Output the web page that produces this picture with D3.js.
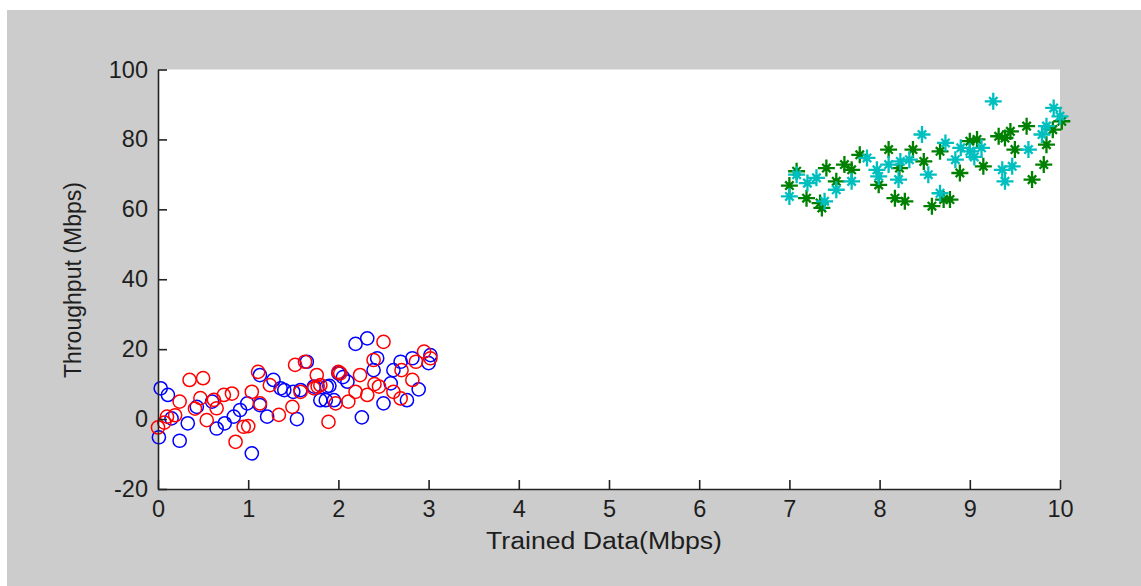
<!DOCTYPE html>
<html><head><meta charset="utf-8">
<script src="https://cdn.jsdelivr.net/npm/d3@7"></script>
<style>body{margin:0;background:#fff}svg{display:block}text{font-family:"Liberation Sans",Arial,sans-serif;fill:#1e1e1e}</style>
</head><body>
<svg id="c" width="1141" height="586"></svg>
<script>
const xTicks = [0,1,2,3,4,5,6,7,8,9,10];
const yTicks = [-20,0,20,40,60,80,100];
const xLabel = "Trained Data(Mbps)";
const yLabel = "Throughput (Mbps)";

const blueX = [0.03,0.11,0.01,0.24,0.33,0.15,0.43,0.60,0.65,0.74,0.84,0.91,0.99,1.04,1.13,1.21,1.28,1.36,1.40,1.50,1.54,1.65,1.58,1.73,1.80,1.87,1.95,2.00,2.10,2.19,2.32,2.26,2.43,2.39,2.50,2.61,2.58,2.69,2.76,2.82,2.89,3.02,3.00,1.13,1.90,1.86,2.05];
const blueY = [8.8,6.9,-5.2,-6.2,-1.2,0.2,3.5,5.0,-2.7,-1.2,0.7,2.6,4.5,-9.8,12.6,0.7,11.2,8.8,8.3,7.8,0.0,16.4,8.3,9.3,5.4,9.3,5.4,13.1,10.7,21.5,23.1,0.5,17.4,14.0,4.5,14.0,10.2,16.4,5.4,17.4,8.5,18.3,16.0,4.0,9.5,5.4,12.0];

const redX = [0.00,0.07,0.10,0.19,0.24,0.35,0.50,0.41,0.54,0.65,0.73,0.82,0.86,0.95,1.00,1.04,1.11,1.13,1.34,1.49,1.52,1.63,1.58,1.76,1.73,1.89,1.97,2.02,2.11,2.19,2.24,2.32,2.39,2.50,2.45,2.61,2.69,2.70,2.82,2.86,2.95,3.02,2.00,1.77,0.47,1.24,1.80,2.40,0.62];
const redY = [-2.4,-1.0,0.7,1.1,5.0,11.2,11.7,3.0,-0.3,3.1,6.9,7.3,-6.5,-2.2,-2.0,7.8,13.5,4.5,1.2,3.5,15.5,16.4,7.8,12.6,8.8,-0.8,4.5,13.1,5.0,7.8,12.6,6.9,16.9,22.1,9.3,7.8,5.9,14.0,11.2,16.4,19.3,17.4,13.5,9.3,6.0,9.7,9.7,10.0,5.5];

const greenX = [7.00,7.08,7.19,7.34,7.36,7.41,7.52,7.61,7.69,7.78,7.99,8.10,8.17,8.28,8.37,8.49,8.58,8.67,8.71,8.78,8.89,9.00,9.08,9.15,9.32,9.39,9.45,9.50,9.63,9.69,9.82,9.85,9.92,10.02,8.22];
const greenY = [66.8,70.9,63.2,61.8,60.4,71.8,68.0,72.8,71.3,75.6,67.0,77.1,63.2,62.3,77.1,73.7,60.9,76.6,62.8,62.8,70.4,79.5,80.0,72.3,80.9,80.4,82.3,77.1,83.8,68.5,72.8,78.5,82.8,85.2,71.8];

const cyanX = [7.00,7.08,7.20,7.30,7.39,7.52,7.69,7.86,7.97,7.99,8.10,8.21,8.23,8.33,8.47,8.54,8.67,8.73,8.84,8.90,9.00,9.13,9.26,9.36,9.39,9.47,9.65,9.80,9.85,9.93,10.00,9.05];
const cyanY = [63.7,69.9,67.5,69.0,62.3,65.6,68.0,74.7,71.3,69.4,72.8,68.5,73.7,74.2,81.4,69.9,64.6,79.0,74.2,77.6,76.6,77.6,90.9,71.3,68.0,72.3,77.1,81.4,83.8,89.0,86.6,75.0];

const svg = d3.select("#c");
svg.append("rect").attr("x",7).attr("y",10).attr("width",1134).attr("height",576).attr("fill","#cccccc");

const L=158,R=1060,T=69.5,B=489;
svg.append("rect").attr("x",L).attr("y",T).attr("width",R-L).attr("height",B-T).attr("fill","#fff");

const x = d3.scaleLinear().domain([0,10]).range([L,R]);
const y = d3.scaleLinear().domain([-20,100]).range([B,T]);

const plot = svg.append("g");
function circles(xs,ys,color){
  plot.selectAll(null).data(xs.map((v,i)=>[v,ys[i]])).enter().append("circle")
    .attr("cx",d=>x(d[0])).attr("cy",d=>y(d[1])).attr("r",6.6)
    .attr("fill","none").attr("stroke",color).attr("stroke-width",1.5);
}
function stars(xs,ys,color){
  plot.selectAll(null).data(xs.map((v,i)=>[v,ys[i]])).enter().append("path")
    .attr("transform",d=>`translate(${x(d[0])},${y(d[1])})`)
    .attr("d","M-8.5,0H8.5M0,-8.5V8.5M-4.2,-4.2L4.2,4.2M-4.2,4.2L4.2,-4.2")
    .attr("stroke",color).attr("stroke-width",2.3).attr("fill","none");
}
circles(blueX,blueY,"#0000ff");
circles(redX,redY,"#ff0000");
stars(greenX,greenY,"#008000");
stars(cyanX,cyanY,"#00bfbf");

const fmt = d => String(d);
const ax = svg.append("g").attr("transform",`translate(0,${B})`)
  .call(d3.axisBottom(x).tickValues(xTicks).tickFormat(fmt).tickSizeInner(-9).tickSizeOuter(0).tickPadding(12));
const ay = svg.append("g").attr("transform",`translate(${L},0)`)
  .call(d3.axisLeft(y).tickValues(yTicks).tickFormat(fmt).tickSizeInner(-9).tickSizeOuter(0).tickPadding(10));
[ax,ay].forEach(a=>{
  a.select(".domain").attr("stroke","#222").attr("stroke-width",1.6);
  a.selectAll(".tick line").attr("stroke","#222").attr("stroke-width",1.6);
  a.selectAll(".tick text").attr("font-size",23.5).attr("fill","#1e1e1e").attr("font-family",null);
});
ax.selectAll(".tick text").attr("dy","0.68em");

svg.append("text").attr("x",(486+722)/2).attr("y",549).attr("text-anchor","middle").attr("font-size",23)
  .attr("textLength",236).attr("lengthAdjust","spacingAndGlyphs").text(xLabel);
svg.append("text").attr("transform",`translate(81,280) rotate(-90)`).attr("text-anchor","middle").attr("font-size",23)
  .attr("textLength",196).attr("lengthAdjust","spacingAndGlyphs").text(yLabel);
</script>
</body></html>
